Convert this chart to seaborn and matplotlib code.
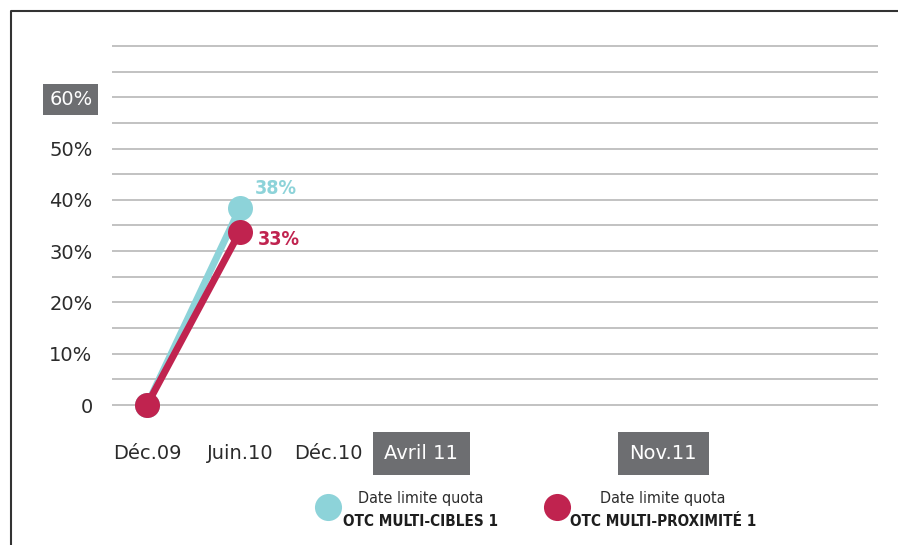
import pandas as pd
import matplotlib.pyplot as plt
import seaborn as sns
from matplotlib.lines import Line2D

# data
dates = ["Déc.09", "Juin.10"]
cibles = [0, 38.4]
proximite = [0, 33.8]
series_names = ["OTC MULTI-CIBLES 1", "OTC MULTI-PROXIMITÉ 1"]
tick_labels = ["Déc.09", "Juin.10", "Déc.10", "Avril 11", "Nov.11"]
tick_pos = [0, 1, 1.95, 2.95, 5.55]
boxed_x = ["Avril 11", "Nov.11"]
y_ticks = [0, 10, 20, 30, 40, 50, 60]

CYAN = "#8dd3d9"
MAGENTA = "#c0234f"
BOXGRAY = "#6d6e71"
TXT = "#2b2b2b"
NARROW = dict(family="DejaVu Sans", stretch="condensed")

pos = dict(zip(tick_labels, tick_pos))
df = pd.DataFrame({
    "x": [pos[d] for d in dates] * 2,
    "val": cibles + proximite,
    "serie": [series_names[0]] * len(dates) + [series_names[1]] * len(dates),
})

sns.set_style("white")
plt.rcParams["font.family"] = ["DejaVu Sans"]

fig = plt.figure(figsize=(8.98, 5.45), dpi=100)
ax = fig.add_axes([0.1247, 0.2286, 0.853, 0.7153])

for y in range(0, 75, 5):
    ax.axhline(y, color="#bdbdbd", lw=1.3, zorder=0)

sns.lineplot(data=df, x="x", y="val", hue="serie", hue_order=series_names,
             palette={series_names[0]: CYAN, series_names[1]: MAGENTA},
             marker="o", markersize=18, markeredgewidth=0, linewidth=5,
             legend=False, ax=ax, zorder=3)

ax.set_xlim(-0.376, 7.86)
ax.set_ylim(-3, 73)
ax.set_xticks(tick_pos)
ax.set_xticklabels(tick_labels, fontsize=14, color=TXT)
ax.set_yticks(y_ticks)
ax.set_yticklabels(["0" if v == 0 else f"{v}%" for v in y_ticks], fontsize=14, color=TXT)
ax.tick_params(axis="x", length=0, pad=17)
ax.tick_params(axis="y", length=0, pad=14)
ax.set_xlabel("")
ax.set_ylabel("")
for s in ax.spines.values():
    s.set_visible(False)

for lab in ax.get_xticklabels():
    if lab.get_text() in boxed_x:
        lab.set_color("white")
        lab.set_bbox(dict(boxstyle="square,pad=0.6", fc=BOXGRAY, ec="none"))
for lab in ax.get_yticklabels():
    if lab.get_text() == "60%":
        lab.set_color("white")
        lab.set_bbox(dict(boxstyle="square,pad=0.3", fc=BOXGRAY, ec="none"))

# value labels at last point
ax.annotate(f"{int(cibles[-1])}%", (pos[dates[-1]], cibles[-1]), xytext=(11, 14),
            textcoords="offset points", ha="left", va="center",
            color=CYAN, fontsize=14, fontweight="bold", **NARROW)
ax.annotate(f"{int(proximite[-1])}%", (pos[dates[-1]], proximite[-1]), xytext=(13, -6),
            textcoords="offset points", ha="left", va="center",
            color=MAGENTA, fontsize=14, fontweight="bold", **NARROW)

# legend drawn by hand
W, H = 898, 545
for cx, tx, col, name in [(328, 421, CYAN, series_names[0]), (557, 663, MAGENTA, series_names[1])]:
    fig.add_artist(Line2D([cx / W], [1 - 507 / H], marker="o", markersize=19.5,
                          color=col, markeredgewidth=0, transform=fig.transFigure))
    fig.text(tx / W, 1 - 498 / H, "Date limite quota", ha="center", va="center",
             fontsize=11.5, color=TXT, **NARROW)
    fig.text(tx / W, 1 - 521 / H, name, ha="center", va="center",
             fontsize=11, fontweight="bold", color="#1e1e1e", **NARROW)

# frame (cut at right and bottom)
fig.add_artist(Line2D([11 / W, 11 / W, 1], [0, 1 - 11 / H, 1 - 11 / H],
                      color="#333333", lw=1.5, transform=fig.transFigure))

fig.savefig("out.png", dpi=100)
